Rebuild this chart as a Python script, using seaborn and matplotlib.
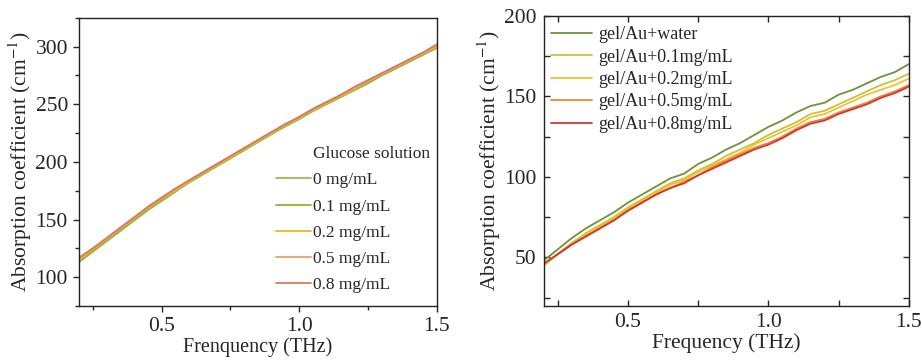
import numpy as np
import pandas as pd
import seaborn as sns
import matplotlib.pyplot as plt
from matplotlib.lines import Line2D
from matplotlib.ticker import MultipleLocator

freq = [0.20, 0.25, 0.30, 0.35, 0.40, 0.45, 0.50, 0.55, 0.60, 0.65, 0.70, 0.75, 0.80, 0.85,
        0.90, 0.95, 1.00, 1.05, 1.10, 1.15, 1.20, 1.25, 1.30, 1.35, 1.40, 1.45, 1.50]

# left panel: glucose solution
glu_labels = ["0 mg/mL", "0.1 mg/mL", "0.2 mg/mL", "0.5 mg/mL", "0.8 mg/mL"]
glu_0 = [113, 122, 131, 140, 149, 158, 166, 174, 182, 189, 196, 203, 210, 217,
         224, 231, 237, 244, 250, 256, 262, 268, 275, 281, 287, 293, 299]
glu_01 = [114, 123, 132, 141, 150, 159, 167, 175, 183, 190, 197, 204, 211, 218,
          225, 231, 238, 245, 251, 257, 263, 269, 275, 281, 287, 293, 299]
glu_02 = [115, 124, 133, 142, 151, 160, 168, 175, 183, 190, 197, 204, 211, 218,
          225, 232, 238, 245, 251, 257, 263, 270, 276, 282, 288, 294, 300]
glu_05 = [116, 125, 133, 142, 151, 161, 169, 176, 184, 191, 198, 205, 212, 219,
          226, 232, 239, 246, 252, 258, 264, 270, 276, 282, 288, 294, 301]
glu_08 = [117, 125, 134, 143, 152, 161, 169, 177, 184, 191, 198, 205, 212, 219,
          226, 233, 239, 246, 252, 258, 265, 271, 277, 283, 289, 295, 302]
glu_colors = ["#8cc353", "#93b52f", "#f0b41f", "#e9a06c", "#d67b63"]

# right panel: gel/Au
gel_labels = ["gel/Au+water", "gel/Au+0.1mg/mL", "gel/Au+0.2mg/mL",
              "gel/Au+0.5mg/mL", "gel/Au+0.8mg/mL"]
gel_water = [48, 55, 62, 68, 73, 78, 84, 89, 94, 99, 102, 108, 112, 117,
             121, 126, 131, 135, 140, 144, 146, 151, 154, 158, 162, 165, 170]
gel_01 = [45, 52, 59, 65, 70, 75, 81, 86, 91, 96, 99, 104, 108, 113,
          117, 121, 126, 130, 134, 139, 141, 145, 149, 153, 157, 160, 164]
gel_02 = [45, 52, 58, 64, 69, 74, 80, 85, 90, 95, 98, 103, 107, 111,
          115, 120, 124, 128, 132, 137, 139, 143, 147, 151, 154, 157, 161]
gel_05 = [46, 52, 58, 63, 68, 73, 79, 84, 89, 93, 97, 101, 106, 110,
          114, 118, 121, 125, 130, 134, 136, 140, 143, 146, 150, 153, 157]
gel_08 = [46, 52, 58, 63, 68, 73, 79, 84, 89, 93, 96, 101, 105, 109,
          113, 117, 120, 124, 129, 133, 135, 139, 142, 145, 149, 152, 156]
gel_colors = ["#6a953a", "#c8c23a", "#f3c12f", "#e8883c", "#d9342b"]

sns.set_theme(style="white")
plt.rcParams["font.family"] = ["Liberation Serif", "DejaVu Serif"]
plt.rcParams["mathtext.fontset"] = "stix"

fig = plt.figure(figsize=(9.22, 3.62), dpi=100)
ax1 = fig.add_axes([0.0857, 0.1547, 0.388, 0.796])
ax2 = fig.add_axes([0.5897, 0.1555, 0.396, 0.801])

for vals, lab, col in zip([glu_0, glu_01, glu_02, glu_05, glu_08], glu_labels, glu_colors):
    sns.lineplot(x=freq, y=vals, color=col, lw=1.3, ax=ax1, legend=False)
for vals, lab, col in zip([gel_water, gel_01, gel_02, gel_05, gel_08], gel_labels, gel_colors):
    sns.lineplot(x=freq, y=vals, color=col, lw=1.3, ax=ax2, legend=False)

ax1.set_xlim(0.2, 1.5)
ax1.set_ylim(75, 325)
ax1.set_xticks([0.5, 1.0, 1.5])
ax1.set_yticks([100, 150, 200, 250, 300])
ax1.xaxis.set_minor_locator(MultipleLocator(0.25))
ax1.yaxis.set_minor_locator(MultipleLocator(25))
ax1.tick_params(which="major", direction="out", length=4, width=1, labelsize=15.5,
                left=True, bottom=True, pad=4)
ax1.tick_params(which="minor", direction="out", length=3, width=1, left=True, bottom=True)
ax1.set_xlabel("Frenquency (THz)", fontsize=14.5, labelpad=1)
ax1.set_ylabel("Absorption coefficient (cm$^{-1}$)", fontsize=15.5, labelpad=1)

ax2.set_xlim(0.2, 1.5)
ax2.set_ylim(20, 200)
ax2.set_xticks([0.5, 1.0, 1.5])
ax2.set_yticks([50, 100, 150, 200])
ax2.xaxis.set_minor_locator(MultipleLocator(0.25))
ax2.yaxis.set_minor_locator(MultipleLocator(25))
ax2.tick_params(which="both", direction="in", length=4, width=1, labelsize=15.5,
                left=True, bottom=True, top=True, right=True, pad=5)
ax2.set_xlabel("Frequency (THz)", fontsize=15.5, labelpad=1)
ax2.set_ylabel("Absorption coefficient (cm$^{-1}$)", fontsize=15.5, labelpad=1)

for ax in (ax1, ax2):
    for s in ax.spines.values():
        s.set_color("#222222")
        s.set_linewidth(1.0)

h1 = [Line2D([], [], alpha=0)] + [Line2D([], [], color=c, lw=1.3) for c in glu_colors]
ax1.legend(h1, ["Glucose solution"] + glu_labels, loc="lower right",
           bbox_to_anchor=(1.025, -0.01), frameon=False, fontsize=12.5,
           handlelength=2.0, handletextpad=0.1, labelspacing=0.58)

h2 = [Line2D([], [], color=c, lw=1.3) for c in gel_colors]
ax2.legend(h2, gel_labels, loc="upper left", bbox_to_anchor=(-0.025, 1.02), frameon=False,
           fontsize=13, handlelength=2.3, handletextpad=0.3, labelspacing=0.3)

fig.savefig("out.png", dpi=100)
